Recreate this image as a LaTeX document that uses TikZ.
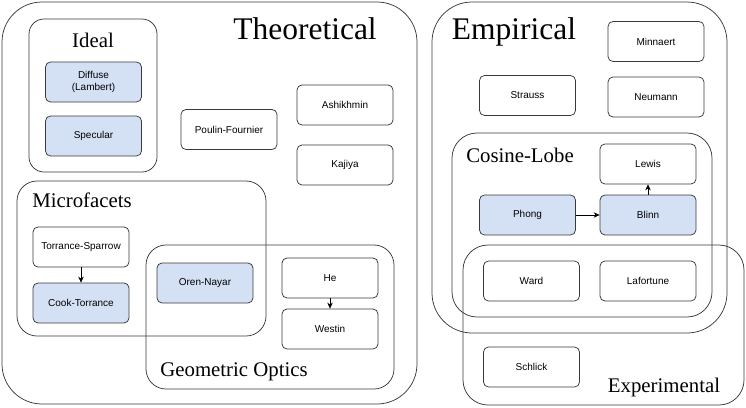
\documentclass[tikz,border=0pt]{standalone}
\usepackage{fontspec}
\setmainfont{Liberation Serif}
\newfontfamily\labelfont{Liberation Sans}
\usetikzlibrary{arrows.meta}
\definecolor{linec}{HTML}{3A3A3A}
\definecolor{bluefill}{HTML}{D4E1F5}
\tikzset{
  grp/.style={draw=linec, line width=0.75pt, rounded corners=#1, inner sep=0pt},
  mbox/.style={draw=linec, line width=0.75pt, rounded corners=5pt, fill=white,
    minimum width=96pt, minimum height=40pt, inner sep=1pt, align=center,
    font=\labelfont\fontsize{10}{11.5}\selectfont},
  bbox/.style={mbox, fill=bluefill},
  bigtitle/.style={anchor=base, inner sep=0pt, font=\fontsize{31.5}{34}\selectfont},
  subtitle/.style={anchor=base, inner sep=0pt, font=\fontsize{20.8}{23}\selectfont},
  conn/.style={draw=black, line width=0.75pt, -{Stealth[length=6pt,width=5.5pt]}},
}
\begin{document}
\begin{tikzpicture}[x=1pt,y=-1pt]
\useasboundingbox (0,0) rectangle (746,407);
% groups
\draw[grp=40pt] (2,2) coordinate (theoNW) rectangle (417,404) coordinate (theoSE);
\draw[grp=15pt] (29,19) coordinate (idealNW) rectangle (157,172) coordinate (idealSE);
\draw[grp=20pt] (17,181) coordinate (microNW) rectangle (266,336) coordinate (microSE);
\draw[grp=20pt] (146,245) coordinate (geoNW) rectangle (394,389) coordinate (geoSE);
\draw[grp=40pt] (432,2) coordinate (empNW) rectangle (727,333) coordinate (empSE);
\draw[grp=25pt] (452,133) coordinate (cosNW) rectangle (712,317) coordinate (cosSE);
\draw[grp=25pt] (463,245) coordinate (expNW) rectangle (744,405) coordinate (expSE);
% titles
\node[bigtitle] (tTheo) at (305,39) {Theoretical};
\node[subtitle] (tIdeal) at (93,47) {Ideal};
\node[subtitle] (tMicro) at (82,207) {Microfacets};
\node[subtitle] (tGeo) at (234,376) {Geometric Optics};
\node[bigtitle] (tEmp) at (514,39) {Empirical};
\node[subtitle] (tCos) at (520,162) {Cosine-Lobe};
\node[subtitle] (tExp) at (664,392) {Experimental};
% boxes
\node[bbox] (diffuse) at (93.5,82) {Diffuse\\(Lambert)};
\node[bbox] (specular) at (93.5,136) {Specular};
\node[mbox] (poulin) at (229,129.5) {Poulin-Fournier};
\node[mbox] (ashikhmin) at (345,105) {Ashikhmin};
\node[mbox] (kajiya) at (345,165) {Kajiya};
\node[mbox] (torrance) at (81,247) {Torrance-Sparrow};
\node[bbox] (cook) at (81,303) {Cook-Torrance};
\node[bbox] (oren) at (205,283) {Oren-Nayar};
\node[mbox] (he) at (330,278) {He};
\node[mbox] (westin) at (330,329) {Westin};
\node[mbox] (minnaert) at (656,41.5) {Minnaert};
\node[mbox] (strauss) at (527.5,95.5) {Strauss};
\node[mbox] (neumann) at (656,97) {Neumann};
\node[mbox] (lewis) at (648,164) {Lewis};
\node[bbox] (phong) at (527.5,215) {Phong};
\node[bbox] (blinn) at (648,215) {Blinn};
\node[mbox] (ward) at (531.5,281) {Ward};
\node[mbox] (lafortune) at (648,281) {Lafortune};
\node[mbox] (schlick) at (531.5,367) {Schlick};
% connectors
\draw[conn] (torrance) -- (cook);
\draw[conn] (he) -- (westin);
\draw[conn] (phong) -- (blinn);
\draw[conn] (blinn) -- (lewis);
\end{tikzpicture}
\end{document}
